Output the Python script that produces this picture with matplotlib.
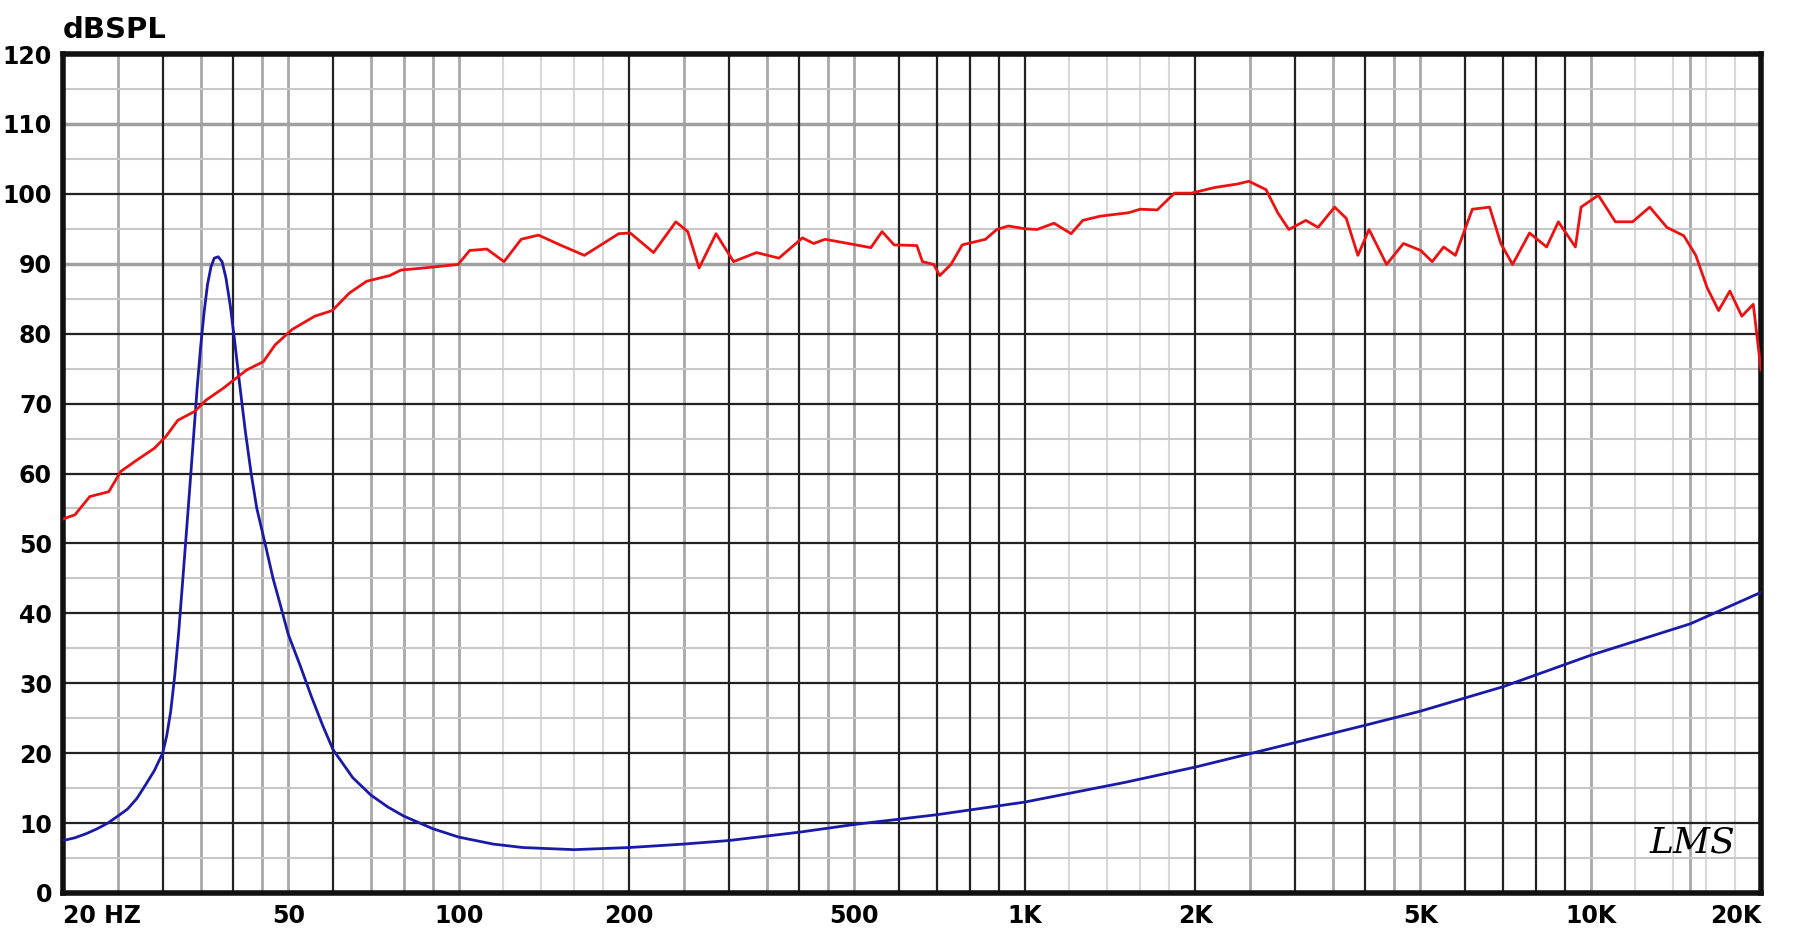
import matplotlib
matplotlib.use("Agg")
import matplotlib.pyplot as plt

red_f = [20,21,22.3,24.1,25.3,27.1,29.0,30.4,31.9,34.2,35.8,38.4,42.2,45.2,47.4,50.8,55.7,59.8,64.1,68.8,75.5,79.1,86.9,99.8,104.6,112.2,120.3,129,138.4,152,166.8,191.8,201,221,242,254,266,285,306,336,368,405,424,444,488,535,560,588,645,660,691,708,741,776,853,893,936,1003,1052,1127,1208,1267,1359,1527,1600,1715,1840,1972,2165,2375,2490,2670,2800,2930,3140,3300,3530,3700,3880,4060,4360,4670,5010,5250,5500,5770,6180,6630,6940,7280,7800,8360,8770,9400,9620,10320,11060,11860,12720,13640,14610,15340,16060,16830,17620,18500,19380,20000]
red_db = [53.5,54.1,56.7,57.4,60.3,62.0,63.6,65.3,67.6,68.9,70.5,72.2,74.8,76.0,78.4,80.6,82.5,83.3,85.8,87.5,88.3,89.1,89.4,89.9,91.9,92.1,90.3,93.5,94.1,92.6,91.2,94.3,94.4,91.6,96.0,94.6,89.4,94.3,90.3,91.6,90.8,93.7,92.9,93.5,92.9,92.3,94.6,92.7,92.6,90.3,89.9,88.3,89.9,92.7,93.5,94.9,95.4,95.0,94.9,95.8,94.3,96.2,96.8,97.3,97.8,97.7,100.1,100.1,100.9,101.4,101.8,100.6,97.3,94.9,96.2,95.2,98.1,96.5,91.2,94.9,89.9,92.9,91.9,90.3,92.4,91.2,97.8,98.1,92.9,89.9,94.4,92.4,96.0,92.4,98.1,99.8,96.0,96.0,98.1,95.2,94.0,91.2,86.6,83.3,86.1,82.5,84.2,74.8]

blue_f = [20,21,22,23,24,25,26,27,28,29,30,30.5,31,31.5,32,32.5,33,33.5,34,34.5,35,35.5,36,36.5,37,37.6,38.2,38.8,39.5,40.2,41,42,43,44,45.5,47,48.5,50,52.5,55,57.5,60,65,70,75,80,90,100,115,130,160,200,250,300,400,500,700,1000,1500,2000,3000,4000,5000,7000,10000,15000,20000]
blue_db = [7.5,7.9,8.5,9.2,10,11,12,13.5,15.5,17.5,20,22.5,26,31,37,44,51,58,65,72,78,83,87,89.5,90.8,91,90.3,88,84,79,73,66,60,55,50,45,41,37,32.5,28,24,20.5,16.5,14,12.3,11,9.2,8,7,6.5,6.2,6.5,7,7.5,8.7,9.8,11.2,13,15.8,18,21.5,24,26,29.5,34,38.5,43]

x_ticks = [20,50,100,200,500,1000,2000,5000,10000,20000]
x_labels = ["20 HZ","50","100","200","500","1K","2K","5K","10K","20K"]
y_ticks = list(range(0,121,10))

dark_v = [30,40,60,200,300,400,600,700,800,900,1000,2000,3000,4000,6000,7000,8000,9000]
grey_v = [25,35,45,50,70,80,90,100,250,350,450,500,2500,3500,4500,5000,10000,15000]
light_v = [120,140,160,180,1200,1400,1600,1800,12000,14000,16000,18000]

fig = plt.figure(figsize=(17.93,9.41), dpi=100)
ax = fig.add_axes([63/1793, 1-893/941, (1761-63)/1793, (893-54)/941])
ax.set_xscale('log')
ax.set_xlim(20,20000); ax.set_ylim(0,120)
for v in light_v: ax.axvline(v, color='#d8d8d8', lw=1.5, zorder=0)
for v in grey_v: ax.axvline(v, color='#a8a8a8', lw=2, zorder=0)
for v in dark_v: ax.axvline(v, color='#222222', lw=1.6, zorder=0.5)
for y in range(5,120,10): ax.axhline(y, color='#c8c8c8', lw=1.5, zorder=0)
for y in range(10,120,10):
    if y in (90,110): ax.axhline(y, color='#a0a0a0', lw=2.5, zorder=0)
    else: ax.axhline(y, color='#222222', lw=1.6, zorder=0.5)
ax.plot(blue_f, blue_db, color='#1a1aa8', lw=2, zorder=3)
ax.plot(red_f, red_db, color='#ee1111', lw=2, zorder=3)
ax.minorticks_off()
ax.set_xticks(x_ticks); ax.set_xticklabels(x_labels)
ax.set_yticks(y_ticks)
ax.tick_params(length=0, labelsize=17, pad=8)
for t in ax.get_xticklabels()+ax.get_yticklabels():
    t.set_fontweight('bold')
xl = ax.get_xticklabels(); xl[0].set_horizontalalignment('left'); xl[-1].set_horizontalalignment('right')
for s in ax.spines.values(): s.set_linewidth(4); s.set_color('#111111')
fig.text(63/1793, 1-30/941, "dBSPL", fontsize=21, fontweight='bold', va='center', ha='left')
ax.text(0.985, 0.04, "LMS", transform=ax.transAxes, fontsize=26, style='italic', ha='right', va='bottom', family='DejaVu Serif')
fig.savefig("out.png", dpi=100)
